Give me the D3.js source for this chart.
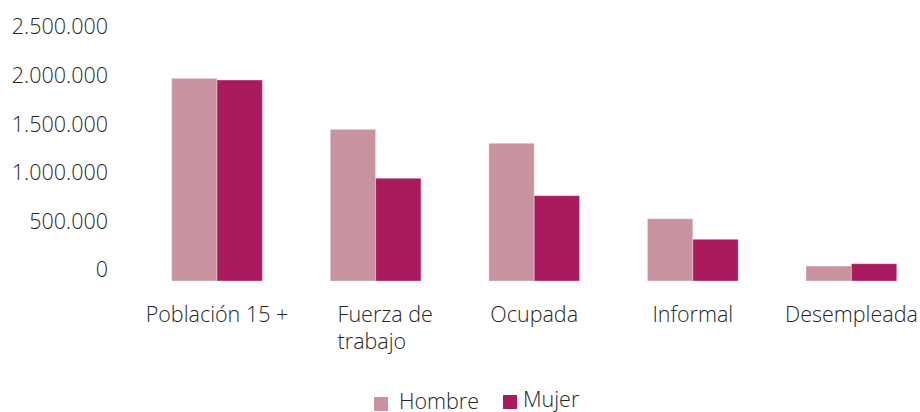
<!DOCTYPE html>
<html>
<head>
<meta charset="utf-8">
<script src="https://cdn.jsdelivr.net/npm/d3@7"></script>
<style>
  body { margin: 0; background: #fff; }
  svg text { font-family: "Open Sans", "Noto Sans", sans-serif; font-weight: 300; fill: #262626; }
</style>
</head>
<body>
<div id="chart"></div>
<script>
// categorias y series
var categories = ["Población 15 +", "Fuerza de trabajo", "Ocupada", "Informal", "Desempleada"];
var hombre = [2085000, 1560000, 1417000, 641000, 154000];
var mujer = [2068000, 1057000, 878000, 429000, 178000];
var seriesNames = ["Hombre", "Mujer"];
var yTicks = [0, 500000, 1000000, 1500000, 2000000, 2500000];

var colors = {"Hombre": "#C8939F", "Mujer": "#AA1B5D"};

var width = 920, height = 412;
var fontSize = "21.5px";

var svg = d3.select("#chart").append("svg")
    .attr("width", width)
    .attr("height", height);

var locale = d3.formatLocale({decimal: ",", thousands: ".", grouping: [3], currency: ["", ""]});
var fmt = locale.format(",d");

var y = d3.scaleLinear()
    .domain([0, 2500000])
    .range([281, 38]);

var x0 = d3.scaleBand()
    .domain(categories)
    .range([137.7, 930.7])
    .paddingInner(0.428)
    .paddingOuter(0.214);

var x1 = d3.scaleBand()
    .domain(seriesNames)
    .range([0, x0.bandwidth()]);

// y axis: labels only, no line
var gy = svg.append("g")
    .attr("transform", "translate(108,0)")
    .call(d3.axisLeft(y).tickValues(yTicks).tickFormat(fmt).tickSize(0).tickPadding(0));
gy.select(".domain").remove();
gy.selectAll("text")
    .attr("y", -11)
    .style("font-size", fontSize)
    .style("font-family", "\"Open Sans\", sans-serif")
    .attr("fill", "#262626");

var rows = categories.map(function (c, i) {
    return {cat: c, values: [{s: "Hombre", v: hombre[i]}, {s: "Mujer", v: mujer[i]}]};
});

var groups = svg.selectAll(".grp")
    .data(rows)
    .enter()
    .append("g")
    .attr("class", "grp")
    .attr("transform", function (d) { return "translate(" + x0(d.cat) + ",0)"; });

groups.selectAll("rect")
    .data(function (d) { return d.values; })
    .enter()
    .append("rect")
    .attr("x", function (d) { return x1(d.s); })
    .attr("width", x1.bandwidth())
    .attr("y", function (d) { return y(d.v); })
    .attr("height", function (d) { return y(0) - y(d.v); })
    .style("fill", function (d) { return colors[d.s]; })
    .style("stroke", "rgba(255,255,255,0.35)")
    .style("stroke-width", 1);

// category labels
var labelLines = {"Fuerza de trabajo": ["Fuerza de", "trabajo"]};

categories.forEach(function (c) {
    var cx = x0(c) + x0.bandwidth() / 2;
    var lines = labelLines[c] || [c];
    var t = svg.append("text")
        .style("font-size", fontSize)
        .attr("y", 321.5);
    if (lines.length == 1) {
        t.attr("x", cx).attr("text-anchor", "middle").text(c);
    } else {
        t.attr("text-anchor", "start");
        lines.forEach(function (l, j) {
            t.append("tspan")
                .attr("x", cx - 38)
                .attr("y", 321.5 + j * 27)
                .text(l);
        });
    }
});

// legend
var legend = svg.append("g");
var lx = [374, 503];
seriesNames.forEach(function (s, i) {
    legend.append("rect")
        .attr("x", lx[i])
        .attr("y", i == 0 ? 397 : 395)
        .attr("width", 14)
        .attr("height", 14)
        .style("fill", colors[s]);
    legend.append("text")
        .attr("x", lx[i] + (i == 0 ? 25 : 20))
        .attr("y", i == 0 ? 409 : 407)
        .style("font-size", fontSize)
        .text(s);
});
</script>
</body>
</html>
